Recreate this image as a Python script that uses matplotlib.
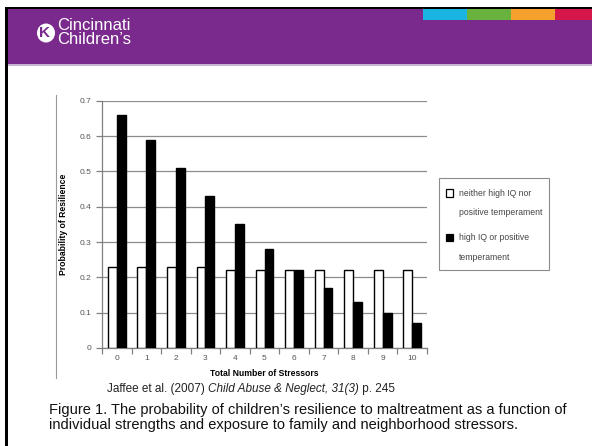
import numpy as np
import matplotlib.pyplot as plt
from matplotlib.patches import Rectangle, Ellipse
from matplotlib.lines import Line2D

plt.rcParams['font.family'] = ['Liberation Sans', 'DejaVu Sans']

# data
stressors = [str(i) for i in range(11)]
neither = [0.23, 0.23, 0.23, 0.23, 0.22, 0.22, 0.22, 0.22, 0.22, 0.22, 0.22]
high_iq = [0.66, 0.59, 0.51, 0.43, 0.35, 0.28, 0.22, 0.17, 0.13, 0.10, 0.07]
yticks = [0, 0.1, 0.2, 0.3, 0.4, 0.5, 0.6, 0.7]
legend_labels = ['neither high IQ nor\npositive temperament', 'high IQ or positive\ntemperament']

W, H = 592, 446
fig = plt.figure(figsize=(W / 100, H / 100), dpi=100, facecolor='white')


def fx(x):
    return x / W


def fy(y):
    return 1 - y / H


def box(x0, y0, x1, y1, **kw):
    fig.add_artist(Rectangle((fx(x0), fy(y1)), (x1 - x0) / W, (y1 - y0) / H,
                             transform=fig.transFigure, **kw))


# slide frame + header
box(8, 9, W, 64, facecolor='#7A2A8C', edgecolor='none')
box(8, 64, W, 66, facecolor='#C9B3D3', edgecolor='none')
box(5, 7, W, 9, facecolor='black', edgecolor='none')
box(5, 7, 8, H, facecolor='black', edgecolor='none')
strip = ['#19B4E1', '#6AB23E', '#F6A12E', '#D5174B']
for i, c in enumerate(strip):
    box(423 + i * 44, 9, 423 + (i + 1) * 44, 20, facecolor=c, edgecolor='none')

# logo
fig.add_artist(Ellipse((fx(46), fy(33)), 18 / W, 19 / H, transform=fig.transFigure,
                       facecolor='white', edgecolor='none'))
fig.text(fx(45), fy(33), 'K', color='#7A2A8C', fontsize=11, fontweight='bold',
         ha='center', va='center')
fig.text(fx(57), fy(26), 'Cincinnati', color='white', fontsize=12, va='center')
fig.text(fx(57), fy(40), 'Children\u2019s', color='white', fontsize=12, va='center')

# thin border of the inset figure
fig.add_artist(Line2D([fx(56), fx(56)], [fy(95), fy(378)], transform=fig.transFigure,
                      color='#9A9A9A', lw=0.8))

# chart
ax = fig.add_axes([fx(102), fy(348), 325 / W, 247.3 / H])
x = np.arange(len(stressors))
w = 0.3
ax.bar(x - w / 2, neither, w, facecolor='white', edgecolor='black', linewidth=1, zorder=3)
ax.bar(x + w / 2, high_iq, w, facecolor='black', edgecolor='black', linewidth=1, zorder=3)

ax.set_xlim(-0.5, len(stressors) - 0.5)
ax.set_ylim(0, 0.7)
ax.set_yticks(yticks)
ax.set_yticklabels(['0'] + [f'{v:.1f}' for v in yticks[1:]])
ax.yaxis.grid(True, color='#8C8C8C', linewidth=0.9, zorder=0)
ax.set_axisbelow(True)

ax.set_xticks(np.arange(-0.5, len(stressors), 1))
ax.set_xticklabels([])
ax.set_xticks(x, minor=True)
ax.set_xticklabels(stressors, minor=True)
ax.tick_params(axis='x', which='minor', length=0, pad=5)
ax.tick_params(axis='both', which='major', length=4, color='#808080', width=0.9)
ax.tick_params(axis='both', which='both', labelsize=6, labelcolor='#555555')

for s in ['top', 'right']:
    ax.spines[s].set_visible(False)
for s in ['left', 'bottom']:
    ax.spines[s].set_color('#808080')
    ax.spines[s].set_linewidth(0.9)

ax.set_ylabel('Probability of Resilience', fontsize=6.2, fontweight='bold')
ax.yaxis.set_label_coords((68 - 102) / 325, 0.5)
fig.text(fx(264), fy(373), 'Total Number of Stressors', fontsize=6.2, fontweight='bold',
         ha='center', va='center')

# legend box
box(439, 178, 549, 270, facecolor='white', edgecolor='#8C8C8C', linewidth=0.8)
for i, (lab, fc) in enumerate(zip(legend_labels, ['white', 'black'])):
    y0 = 193 + i * 45
    box(446, y0 - 3.5, 453, y0 + 3.5, facecolor=fc, edgecolor='black', linewidth=0.9)
    for j, line in enumerate(lab.split('\n')):
        fig.text(fx(459), fy(y0 + j * 20), line, fontsize=6.2,
                 color='#444444', va='center')

# citation (plain / italic / plain, chained) + caption
cite = fig.text(fx(107), fy(389), 'Jaffee et al. (2007) ', fontsize=8.5, va='center',
                color='#222222')
cite2 = fig.text(0, 0, 'Child Abuse & Neglect, 31(3)', fontsize=8.5, style='italic',
                 va='center', color='#222222', transform=cite.get_transform())
fig.canvas.draw()
r = fig.canvas.get_renderer()
bb = cite.get_window_extent(r)
cite2.set_position((bb.x1 / W, fy(389)))
bb2 = cite2.get_window_extent(r)
fig.text(bb2.x1 / W, fy(389), ' p. 245', fontsize=8.5, va='center', color='#222222')

fig.text(fx(49), fy(410), 'Figure 1. The probability of children\u2019s resilience to maltreatment as a function of',
         fontsize=10.5, va='center', color='#111111')
fig.text(fx(49), fy(425), 'individual strengths and exposure to family and neighborhood stressors.',
         fontsize=10.5, va='center', color='#111111')

plt.savefig('out.png', dpi=100, facecolor='white')
